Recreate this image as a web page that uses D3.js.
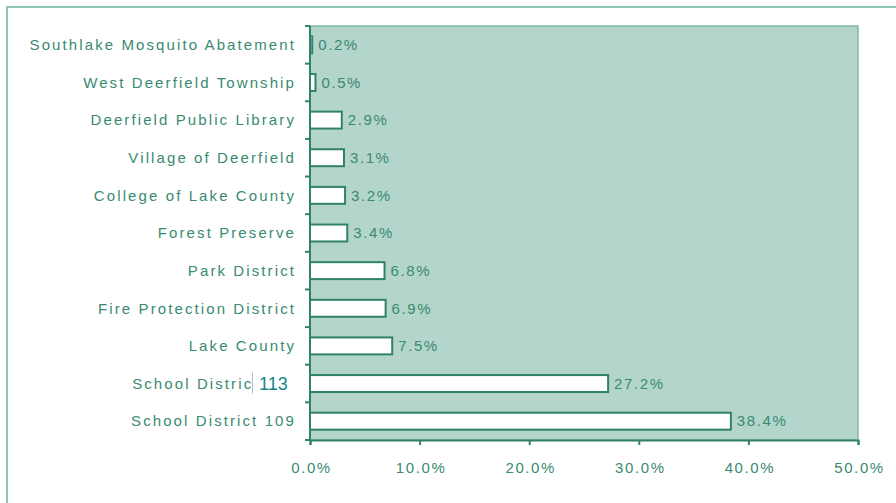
<!DOCTYPE html>
<html>
<head>
<meta charset="utf-8">
<script src="https://cdn.jsdelivr.net/npm/d3@7"></script>
<style>
  body { margin: 0; background: #fff; }
  svg { display: block; }
  text { font-family: "Liberation Sans", Arial, sans-serif; }
</style>
</head>
<body>
<svg width="896" height="503"></svg>
<script>
// taxing bodies, top to bottom
const categories = [
    'Southlake Mosquito Abatement',
    'West Deerfield Township',
    'Deerfield Public Library',
    'Village of Deerfield',
    'College of Lake County',
    'Forest Preserve',
    'Park District',
    'Fire Protection District',
    'Lake County',
    'School District 113',
    'School District 109'
];
const shares = [0.2, 0.5, 2.9, 3.1, 3.2, 3.4, 6.8, 6.9, 7.5, 27.2, 38.4];
const xTicks = [0, 10, 20, 30, 40, 50];

const data = categories.map((c, i) => ({ name: c, value: shares[i] }));

const svg = d3.select('svg');
const width = +svg.attr('width');
const height = +svg.attr('height');
const margin = { top: 26, right: 38, bottom: 63, left: 310 };
const innerWidth = width - margin.left - margin.right;
const innerHeight = height - margin.top - margin.bottom;

const dark = '#2f8268';
const textColor = '#3a8a70';

// outer frame
svg.append('path')
    .attr('d', `M7,${height + 5} V7 H${width + 5}`)
    .attr('fill', 'none')
    .attr('stroke', '#8cc5b5')
    .attr('stroke-width', 2);

const g = svg.append('g')
    .attr('transform', `translate(${margin.left},${margin.top})`);

const xScale = d3.scaleLinear()
    .domain([0, 50])
    .range([0, innerWidth]);

const yScale = d3.scaleBand()
    .domain(categories)
    .range([0, innerHeight])
    .paddingInner(0.55)
    .paddingOuter(0.275);

// plot area
g.append('rect')
    .attr('width', innerWidth)
    .attr('height', innerHeight)
    .attr('fill', '#b3d5cb')
    .attr('stroke', '#7fb9a8')
    .attr('stroke-width', 1.5);

// bars
g.selectAll('.bar').data(data)
  .enter().append('rect')
    .attr('class', 'bar')
    .attr('x', 0)
    .attr('y', d => yScale(d.name))
    .attr('width', d => xScale(d.value))
    .attr('height', yScale.bandwidth())
    .attr('fill', '#fff')
    .attr('stroke', dark)
    .attr('stroke-width', 2);

// value labels
g.selectAll('.value').data(data)
  .enter().append('text')
    .attr('class', 'value')
    .attr('x', d => xScale(d.value) + 6)
    .attr('y', d => yScale(d.name) + yScale.bandwidth() / 2)
    .attr('dy', '0.35em')
    .attr('fill', textColor)
    .attr('font-size', 15)
    .attr('letter-spacing', 1.6)
    .text(d => d.value.toFixed(1) + '%');

// x axis
const xAxis = d3.axisBottom(xScale)
    .tickValues(xTicks)
    .tickSize(5)
    .tickPadding(17)
    .tickFormat(d => d.toFixed(1) + '%');

const xAxisG = g.append('g')
    .attr('transform', `translate(0,${innerHeight})`)
    .call(xAxis);
xAxisG.select('.domain').attr('stroke', dark).attr('stroke-width', 2);
xAxisG.selectAll('.tick line').attr('stroke', dark).attr('stroke-width', 2);
xAxisG.selectAll('.tick text')
    .attr('fill', textColor)
    .attr('font-family', null)
    .attr('font-size', 15)
    .attr('letter-spacing', 1.6)
    .attr('dx', 1);

// y axis: ticks at band boundaries
const boundaries = d3.range(categories.length + 1).map(i => i * innerHeight / categories.length);
g.append('line')
    .attr('x1', 0).attr('x2', 0)
    .attr('y1', 0).attr('y2', innerHeight)
    .attr('stroke', dark)
    .attr('stroke-width', 2);
g.selectAll('.ytick').data(boundaries)
  .enter().append('line')
    .attr('class', 'ytick')
    .attr('x1', -5).attr('x2', 0)
    .attr('y1', d => d).attr('y2', d => d)
    .attr('stroke', dark)
    .attr('stroke-width', 2);

g.selectAll('.cat').data(categories)
  .enter().append('text')
    .attr('class', 'cat')
    .attr('x', -14)
    .attr('y', d => yScale(d) + yScale.bandwidth() / 2)
    .attr('dy', '0.35em')
    .attr('text-anchor', 'end')
    .attr('fill', textColor)
    .attr('font-size', 15)
    .attr('letter-spacing', 2.1)
    .text(d => d);

// pasted-over "113" patch on the School District 113 label
const patchY = yScale('School District 113') + yScale.bandwidth() / 2;
g.append('rect')
    .attr('x', -58).attr('y', patchY - 13)
    .attr('width', 45).attr('height', 24)
    .attr('fill', '#fff');
g.append('line')
    .attr('x1', -57.5).attr('x2', -57.5)
    .attr('y1', patchY - 11).attr('y2', patchY + 10)
    .attr('stroke', '#bbb')
    .attr('stroke-width', 1);
g.append('text')
    .attr('x', -51)
    .attr('y', patchY)
    .attr('dy', '0.35em')
    .attr('fill', '#14878a')
    .attr('font-family', 'DejaVu Sans, sans-serif')
    .attr('font-size', 18)
    .text('113');
</script>
</body>
</html>
